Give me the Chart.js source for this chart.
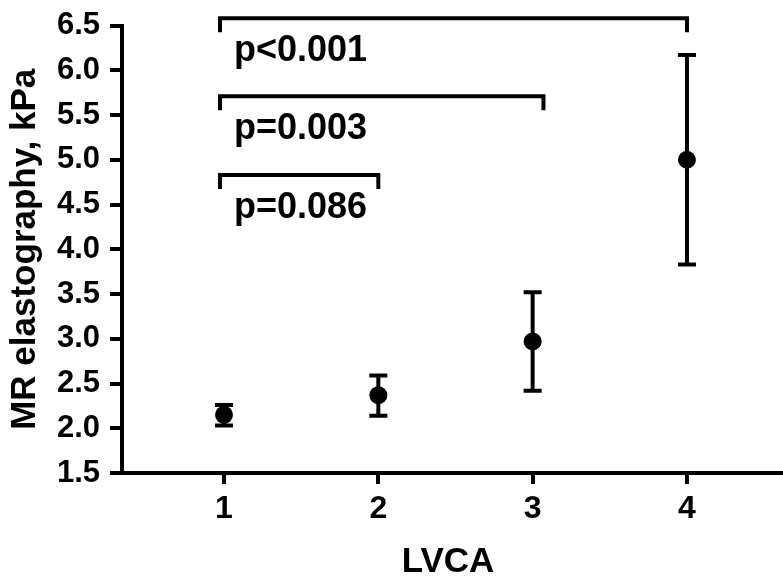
<!DOCTYPE html>
<html>
<head>
<meta charset="utf-8">
<script src="https://cdn.jsdelivr.net/npm/chart.js@4"></script>
<style>
html,body{margin:0;padding:0;background:#fff;}
#wrap{width:783px;height:578px;position:relative;}
</style>
</head>
<body>
<div id="wrap"><canvas id="c" width="783" height="578"></canvas></div>
<script>
// ---- data ----
const categories = [1, 2, 3, 4];
const means = [2.15, 2.37, 2.97, 5.00];
const lowerValues = [2.03, 2.14, 2.42, 3.83];
const upperValues = [2.26, 2.59, 3.52, 6.17];
const yTickValues = [1.5, 2.0, 2.5, 3.0, 3.5, 4.0, 4.5, 5.0, 5.5, 6.0, 6.5];
const bracketStarts = [0.974, 0.974, 0.974];
const bracketEnds = [4.0, 3.07, 2.0];
const bracketLevels = [6.58, 5.71, 4.83];
const bracketLabels = ['p<0.001', 'p=0.003', 'p=0.086'];

const FONT = '"Liberation Sans", Arial, Helvetica, sans-serif';

const errorBarPlugin = {
  id: 'errorBars',
  afterDatasetsDraw(chart) {
    const ctx = chart.ctx, xs = chart.scales.x, ys = chart.scales.y;
    ctx.save();
    ctx.strokeStyle = '#000';
    ctx.lineWidth = 4;
    ctx.lineCap = 'butt';
    categories.forEach((c, i) => {
      const x = xs.getPixelForValue(c);
      const yl = ys.getPixelForValue(lowerValues[i]);
      const yu = ys.getPixelForValue(upperValues[i]);
      ctx.beginPath();
      ctx.moveTo(x, yl); ctx.lineTo(x, yu);
      ctx.moveTo(x - 9, yl); ctx.lineTo(x + 9, yl);
      ctx.moveTo(x - 9, yu); ctx.lineTo(x + 9, yu);
      ctx.stroke();
    });
    // extend the x-axis line to the right edge of the canvas
    const a = chart.chartArea;
    ctx.beginPath();
    ctx.moveTo(a.right - 2, a.bottom);
    ctx.lineTo(chart.width, a.bottom);
    ctx.stroke();
    ctx.restore();
  },
  afterDraw(chart) {
    const ctx = chart.ctx, xs = chart.scales.x, ys = chart.scales.y;
    ctx.save();
    ctx.strokeStyle = '#000';
    ctx.fillStyle = '#000';
    ctx.lineWidth = 4;
    ctx.lineCap = 'butt';
    ctx.lineJoin = 'miter';
    bracketLevels.forEach((lv, i) => {
      const x1 = xs.getPixelForValue(bracketStarts[i]);
      const x2 = xs.getPixelForValue(bracketEnds[i]);
      const y = ys.getPixelForValue(lv);
      ctx.beginPath();
      ctx.moveTo(x1, y + 14);
      ctx.lineTo(x1, y);
      ctx.lineTo(x2, y);
      ctx.lineTo(x2, y + 14);
      ctx.stroke();
      ctx.font = 'bold 36px ' + FONT;
      ctx.textAlign = 'left';
      ctx.textBaseline = 'alphabetic';
      ctx.fillText(bracketLabels[i], x1 + 14, y + 43);
    });
    ctx.restore();
  }
};

new Chart(document.getElementById('c'), {
  type: 'scatter',
  data: {
    datasets: [{
      data: categories.map((c, i) => ({x: c, y: means[i]})),
      backgroundColor: '#000',
      borderColor: '#000',
      pointRadius: 9,
      pointHoverRadius: 9,
      borderWidth: 0
    }]
  },
  options: {
    responsive: false,
    animation: false,
    events: [],
    layout: {padding: {top: 25, right: 0, left: 0, bottom: 0}},
    plugins: {legend: {display: false}, tooltip: {enabled: false}},
    scales: {
      x: {
        type: 'linear',
        min: 0.339,
        max: 4.564,
        afterBuildTicks(scale) { scale.ticks = categories.map(v => ({value: v})); },
        afterFit(scale) { scale.height = 105; },
        ticks: {
          color: '#000',
          padding: 9,
          font: {family: FONT, size: 32, weight: 'bold', lineHeight: 1},
          callback: v => String(v)
        },
        grid: {drawOnChartArea: false, drawTicks: true, tickLength: 11, color: '#000', lineWidth: 4},
        border: {display: true, color: '#000', width: 4},
        title: {
          display: true, text: 'LVCA', color: '#000',
          font: {family: FONT, size: 35, weight: 'bold', lineHeight: 0.9},
          padding: {top: 0, bottom: 0}
        }
      },
      y: {
        min: 1.5,
        max: 6.5,
        afterBuildTicks(scale) { scale.ticks = yTickValues.map(v => ({value: v})); },
        afterFit(scale) { scale.width = 122; },
        ticks: {
          color: '#000',
          padding: 10,
          font: {family: FONT, size: 31, weight: 'bold', lineHeight: 1},
          callback: v => Number(v).toFixed(1)
        },
        grid: {drawOnChartArea: false, drawTicks: true, tickLength: 12, color: '#000', lineWidth: 4},
        border: {display: true, color: '#000', width: 4},
        title: {
          display: true, text: 'MR elastography, kPa', color: '#000',
          font: {family: FONT, size: 35, weight: 'bold', lineHeight: 1},
          padding: {top: 8, bottom: 0}
        }
      }
    }
  },
  plugins: [errorBarPlugin]
});
</script>
</body>
</html>
